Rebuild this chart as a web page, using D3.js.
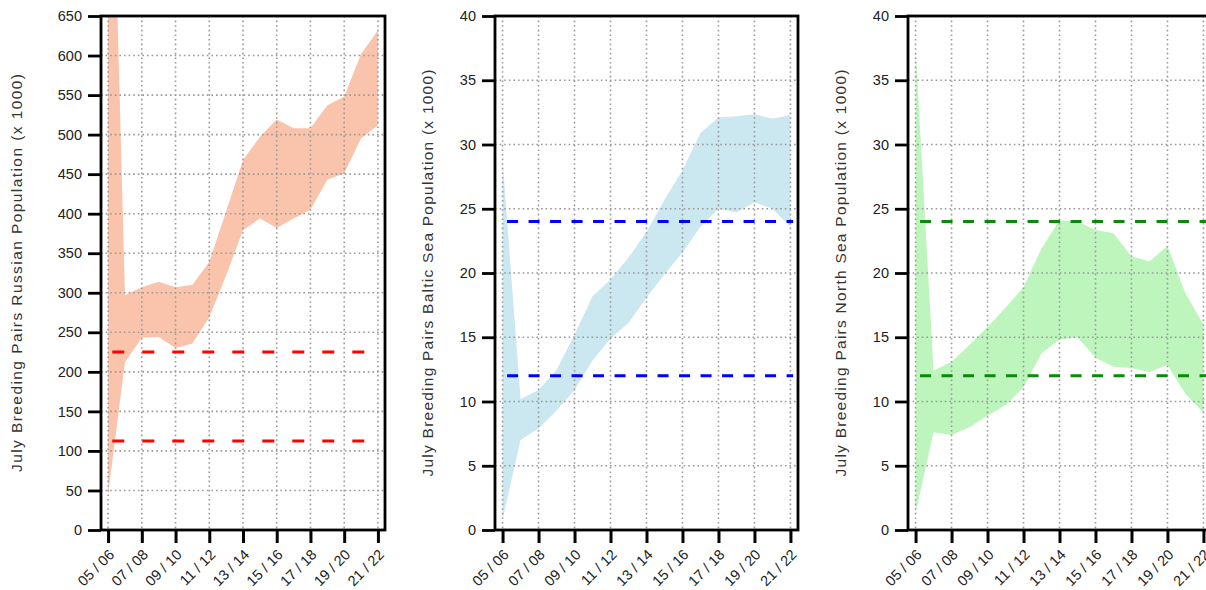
<!DOCTYPE html>
<html>
<head>
<meta charset="utf-8">
<script src="https://cdn.jsdelivr.net/npm/d3@7"></script>
<style>
  body { margin: 0; background: #fff; }
  svg { display: block; font-family: "Liberation Sans", Arial, sans-serif; }
</style>
</head>
<body>
<svg width="1206" height="590"></svg>
<script>
// seasons 05/06 .. 21/22
var seasons = ["05 / 06", "06 / 07", "07 / 08", "08 / 09", "09 / 10", "10 / 11", "11 / 12", "12 / 13",
  "13 / 14", "14 / 15", "15 / 16", "16 / 17", "17 / 18", "18 / 19", "19 / 20", "20 / 21", "21 / 22"];
var seasonTicks = [0, 2, 4, 6, 8, 10, 12, 14, 16];

// Russian population (x 1000), low / high bounds
var russianLow  = [45, 212, 243, 244, 230, 236, 269, 322, 379, 394, 382, 394, 405, 443, 451, 495, 512];
var russianHigh = [1100, 297, 307, 314, 307, 310, 339, 403, 468, 497, 519, 508, 508, 537, 548, 602, 632];
var russianRefs = [225, 112.5];
var russianTicks = d3.range(0, 651, 50);

// Baltic Sea population (x 1000)
var balticLow  = [0.8, 7.0, 7.9, 9.3, 10.9, 13.2, 14.9, 16.1, 18.1, 19.9, 21.6, 23.6, 25.0, 24.7, 25.5, 25.0, 23.6];
var balticHigh = [28.8, 10.2, 10.9, 12.45, 15.2, 18.2, 19.5, 21.2, 23.2, 25.7, 28.0, 30.9, 32.1, 32.2, 32.35, 32.0, 32.3];
var balticRefs = [24, 12];

// North Sea population (x 1000)
var northLow  = [1.3, 7.6, 7.4, 8.0, 8.9, 9.7, 11.1, 13.75, 14.8, 15.0, 13.4, 12.7, 12.6, 12.3, 12.85, 10.6, 9.1];
var northHigh = [37.5, 12.4, 13.1, 14.4, 15.8, 17.3, 18.9, 21.9, 24.1, 24.0, 23.35, 23.1, 21.3, 20.9, 22.1, 18.4, 16.0];
var northRefs = [24, 12];

var smallTicks = d3.range(0, 41, 5);

var panels = [
  { name: "Russian", low: russianLow, high: russianHigh, refs: russianRefs, ticks: russianTicks, max: 650,
    left: 101, width: 284, fill: "#f9c4ab", refColor: "#ff0000", dash: "12,18", titleX: 17, titleLen: 398 },
  { name: "Baltic  Sea", low: balticLow, high: balticHigh, refs: balticRefs, ticks: smallTicks, max: 40,
    left: 495, width: 303, fill: "#cbe7f0", refColor: "#0000ff", dash: "11,10.5", titleX: 428, titleLen: 407 },
  { name: "North  Sea", low: northLow, high: northHigh, refs: northRefs, ticks: smallTicks, max: 40,
    left: 908, width: 303, fill: "#bdf5bd", refColor: "#0a8a0a", dash: "11,10.5", titleX: 841, titleLen: 407 }
];

var plotTop = 16, plotBottom = 530;
var svg = d3.select("svg");

panels.forEach(function(p, k) {
  var x = d3.scaleLinear().domain([-0.42, 16.42]).range([p.left, p.left + p.width]);
  var y = d3.scaleLinear().domain([0, p.max]).range([plotBottom, plotTop]);
  var g = svg.append("g");

  g.append("clipPath").attr("id", "clip" + k)
    .append("rect").attr("x", p.left).attr("y", plotTop).attr("width", p.width).attr("height", plotBottom - plotTop);

  var area = d3.area()
    .x(function(d, i) { return x(i); })
    .y0(function(d, i) { return y(p.low[i]); })
    .y1(function(d, i) { return y(p.high[i]); });

  g.append("path")
    .datum(p.low)
    .attr("clip-path", "url(#clip" + k + ")")
    .attr("d", area)
    .style("fill", p.fill);

  // dotted grid
  g.selectAll(".vgrid").data(seasonTicks).enter().append("line")
    .attr("x1", function(d) { return x(d); }).attr("x2", function(d) { return x(d); })
    .attr("y1", plotTop).attr("y2", plotBottom)
    .style("stroke", "#999").style("stroke-width", 1.6).style("stroke-dasharray", "1.6,3");
  g.selectAll(".hgrid").data(p.ticks).enter().append("line")
    .attr("x1", p.left).attr("x2", p.left + p.width)
    .attr("y1", function(d) { return y(d); }).attr("y2", function(d) { return y(d); })
    .style("stroke", "#999").style("stroke-width", 1.6).style("stroke-dasharray", "1.6,3");

  // reference lines
  g.selectAll(".ref").data(p.refs).enter().append("line")
    .attr("x1", x(0.25)).attr("x2", x(16.15))
    .attr("y1", function(d) { return y(d); }).attr("y2", function(d) { return y(d); })
    .style("stroke", p.refColor).style("stroke-width", 3).style("stroke-dasharray", p.dash);

  // frame
  g.append("rect")
    .attr("x", p.left).attr("y", plotTop).attr("width", p.width).attr("height", plotBottom - plotTop)
    .style("fill", "none").style("stroke", "#000").style("stroke-width", 2.8);

  // y axis
  var ya = g.append("g").attr("transform", "translate(" + p.left + ",0)")
    .call(d3.axisLeft(y).tickValues(p.ticks).tickSize(13).tickPadding(6).tickFormat(d3.format("d")));
  ya.select(".domain").remove();
  ya.selectAll(".tick line").style("stroke", "#000").style("stroke-width", 2.8);
  ya.selectAll(".tick text").style("font-size", "14.5px").style("fill", "#222");

  // x axis
  var xa = g.append("g").attr("transform", "translate(0," + plotBottom + ")")
    .call(d3.axisBottom(x).tickValues(seasonTicks).tickSize(13).tickFormat(function(i) { return seasons[i]; }));
  xa.select(".domain").remove();
  xa.selectAll(".tick line").style("stroke", "#000").style("stroke-width", 3);
  xa.selectAll(".tick text")
    .attr("x", 0).attr("y", 0).attr("dy", "0.35em")
    .attr("transform", "translate(3,22) rotate(-45)")
    .style("text-anchor", "end")
    .style("font-size", "14.5px").style("fill", "#222");

  // axis title
  g.append("text")
    .attr("transform", "translate(" + p.titleX + "," + (plotTop + plotBottom) / 2 + ") rotate(-90)")
    .attr("dy", "0.35em")
    .attr("text-anchor", "middle")
    .attr("textLength", p.titleLen)
    .attr("lengthAdjust", "spacing")
    .style("font-size", "15.5px").style("fill", "#333")
    .text("July  Breeding  Pairs  " + p.name + "  Population  (x 1000)");
});
</script>
</body>
</html>
